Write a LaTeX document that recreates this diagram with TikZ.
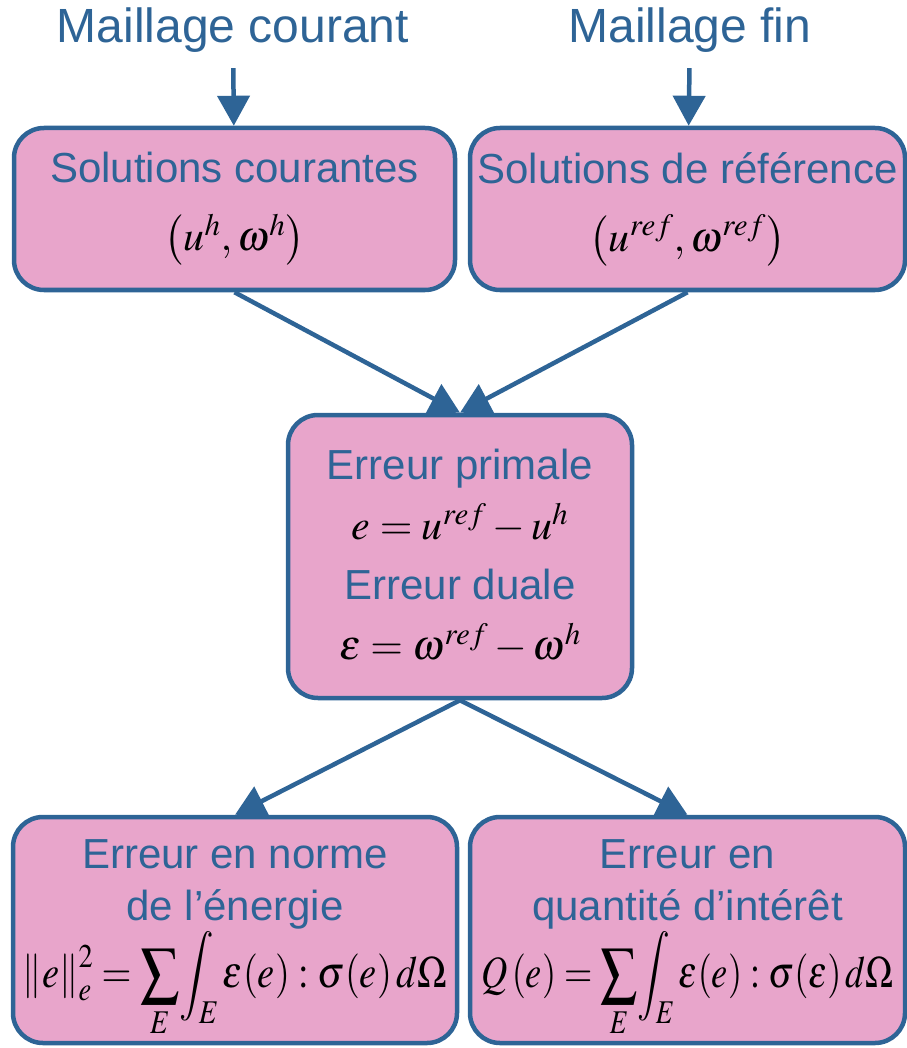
\documentclass[tikz,border=0pt]{standalone}
\usepackage{amsmath}
\usepackage{graphicx}
\usepackage{mathptmx}
\usepackage[no-math]{fontspec}
\setmainfont{Liberation Sans}
\usepackage{tikz}
\usetikzlibrary{arrows.meta}

\definecolor{bleu}{HTML}{2E6496}
\definecolor{rose}{HTML}{E8A5CB}

\tikzset{
  boite/.style={draw=bleu, fill=rose, line width=4.5pt, rounded corners=30pt,
    align=center, inner sep=0pt, text=bleu, font=\fontsize{42}{60}\selectfont},
  titre/.style={text=bleu, font=\fontsize{48}{56}\selectfont, inner sep=0pt,
    minimum height=76pt},
  fleche/.style={draw=bleu, line width=4.5pt, -{Triangle[length=30pt,width=32pt]}}
}

\newcommand{\formule}[1]{{\color{black}$#1$}}
\newcommand{\grandeformule}[3]{{\color{black}\resizebox*{#1}{#2}{$\displaystyle #3$}}}

\begin{document}
\begin{tikzpicture}[x=1pt, y={(0,-1pt)}]
                    \useasboundingbox (0,0) rectangle (906,1048);
                    % Nodes
                    \node[titre] (courant) at (233,30) {Maillage courant};
                    \node[titre] (fin) at (690,30) {Maillage fin};
                    \node[boite, minimum width=441pt, minimum height=162pt] (solh) at (234.5,209)
                      {Solutions courantes\\[8pt] \formule{\left(u^{h},\omega^{h}\right)}};
                    \node[boite, minimum width=435pt, minimum height=162pt] (solref) at (687.5,209)
                      {Solutions de r\'ef\'erence\\[8pt] \formule{\left(u^{ref},\omega^{ref}\right)}};
                    \node[boite, minimum width=344pt, minimum height=283pt] (erreur) at (460,556.5)
                      {Erreur primale\\ \formule{e=u^{ref}-u^{h}}\\ Erreur duale\\ \formule{\varepsilon=\omega^{ref}-\omega^{h}}};
                    \node[boite, minimum width=444pt, minimum height=226pt] (norme) at (235,930)
                      {\rule{0pt}{46pt}Erreur en norme\\[-8pt] de l’\'energie\\[2pt]
                       \grandeformule{424pt}{106pt}{\left\| e\right\|_{e}^{2}=\sum_{E}\!\int_{E}\varepsilon(e):\sigma(e)\,d\Omega}};
                    \node[boite, minimum width=435pt, minimum height=226pt] (interet) at (687.5,930)
                      {\rule{0pt}{46pt}Erreur en\\[-8pt] quantit\'e d’int\'er\^et\\[2pt]
                       \grandeformule{412pt}{106pt}{Q\left( e\right)=\sum_{E}\!\int_{E}\varepsilon(e):\sigma(\varepsilon)\,d\Omega}};
                    % Edges
                    \draw[fleche] (courant) -- (solh);
                    \draw[fleche] (fin) -- (solref);
                    \draw[fleche] (solh.south) -- (erreur.north);
                    \draw[fleche] (solref.south) -- (erreur.north);
                    \draw[fleche] (erreur.south) -- (norme.north);
                    \draw[fleche] (erreur.south) -- (interet.north);
                \end{tikzpicture}
\end{document}
